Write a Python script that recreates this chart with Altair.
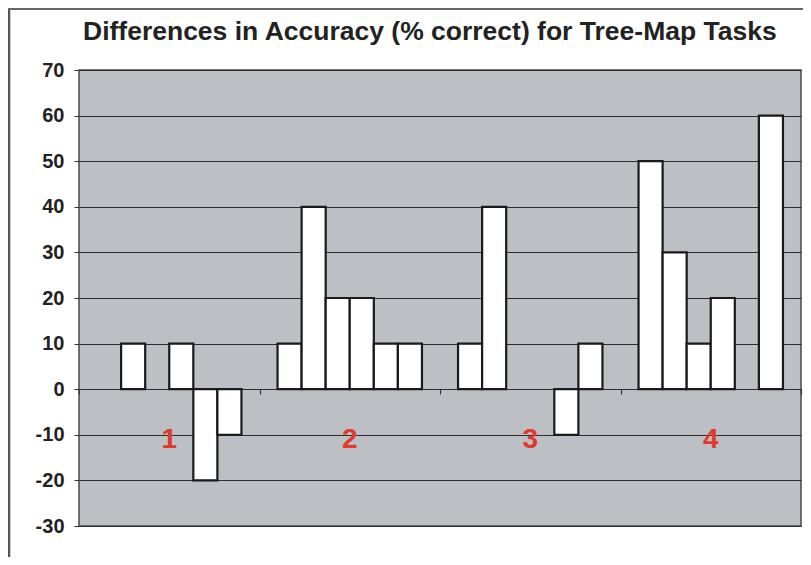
import altair as alt
import pandas as pd

groups = ["1", "2", "3", "4"]
series = ["s1", "s2", "s3", "s4", "s5", "s6"]
group1 = [0, 10, 0, 10, -20, -10]
group2 = [10, 40, 20, 20, 10, 10]
group3 = [10, 40, 0, 0, -10, 10]
group4 = [50, 30, 10, 20, 0, 60]
y_ticks = [-30, -20, -10, 0, 10, 20, 30, 40, 50, 60, 70]
label_level = -10
title_text = "Differences in Accuracy (% correct) for Tree-Map Tasks"

rows = []
for g, vals in zip(groups, [group1, group2, group3, group4]):
    for s, v in zip(series, vals):
        if v != 0:
            rows.append({"group": g, "series": s, "value": v})
bars_df = pd.DataFrame(rows)
labels_df = pd.DataFrame({"group": groups, "value": [label_level] * len(groups)})
title_df = pd.DataFrame({"text": [title_text]})

x_scale = alt.Scale(domain=groups, paddingInner=0, paddingOuter=0)
y_scale = alt.Scale(domain=[-30, 70], nice=False, zero=False)

bars = alt.Chart(bars_df).mark_bar(
    fill="white", stroke="#1a1a1a", strokeWidth=2.2, strokeJoin="miter"
).encode(
    x=alt.X("group:N", scale=x_scale,
            axis=alt.Axis(orient="bottom", offset=-137, labels=False, domain=False,
                          ticks=True, tickBand="extent", tickSize=5, tickColor="#333",
                          tickWidth=1.2, title=None, grid=False)),
    xOffset=alt.XOffset("series:N",
                        scale=alt.Scale(domain=series, paddingInner=0, paddingOuter=0.75)),
    y=alt.Y("value:Q", scale=y_scale,
            axis=alt.Axis(values=y_ticks, title=None, grid=True, gridColor="#2e2e2e",
                          gridWidth=1, domain=False, tickSize=5, tickColor="#333",
                          labelExpr="'' + datum.value",
                          labelFontSize=20, labelFont="Liberation Sans",
                          labelFontWeight="bold", labelColor="#222", labelPadding=10)),
    y2=alt.datum(0),
)

labels = alt.Chart(labels_df).mark_text(
    color="#e0392d", fontSize=28, fontWeight="bold", font="Liberation Sans",
    baseline="middle", dy=5
).encode(
    x=alt.X("group:N", scale=x_scale),
    y=alt.Y("value:Q", scale=y_scale),
    text="group:N",
)

title = alt.Chart(title_df).mark_text(
    fontSize=26.5, fontWeight="bold", font="Liberation Sans", color="#222",
    align="left", baseline="alphabetic"
).encode(
    x=alt.value(4), y=alt.value(-30), text="text:N"
)

frame_left = alt.Chart(title_df).mark_rule(color="#555", strokeWidth=2.5).encode(
    x=alt.value(-70), y=alt.value(-62), y2=alt.value(487)
)
frame_top = alt.Chart(title_df).mark_rule(color="#666", strokeWidth=2).encode(
    x=alt.value(-71), x2=alt.value(724), y=alt.value(-61)
)

chart = alt.layer(bars, labels, title, frame_left, frame_top).properties(
    width=722,
    height=456,
    padding={"left": 71, "top": 62, "right": 2, "bottom": 31},
    autosize=alt.AutoSizeParams(type="none"),
    background="white",
).configure_view(
    fill="#bcbfc3", stroke="#4a4a4a", strokeWidth=1.5
)

chart.save("out.html", embed_options={"renderer": "svg", "actions": False})
